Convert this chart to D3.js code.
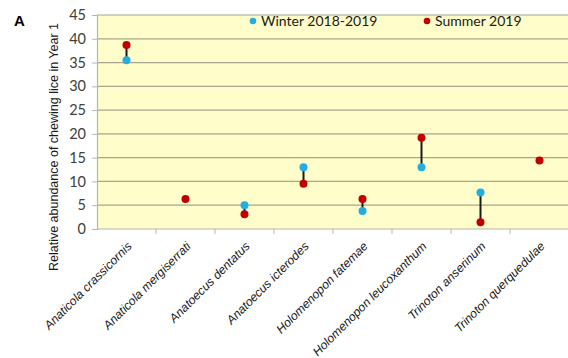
<!DOCTYPE html>
<html>
<head>
<meta charset="utf-8">
<script src="https://cdn.jsdelivr.net/npm/d3@7"></script>
<style>
  html, body { margin: 0; padding: 0; background: #ffffff; }
  svg { display: block; }
</style>
</head>
<body>
<svg id="chart" width="568" height="358"></svg>
<script>
// Relative abundance of chewing lice species, winter vs summer
const species = [
  "Anaticola crassicornis",
  "Anaticola mergiserrati",
  "Anatoecus dentatus",
  "Anatoecus icterodes",
  "Holomenopon fatemae",
  "Holomenopon leucoxanthum",
  "Trinoton anserinum",
  "Trinoton querquedulae"
];
const winter = [35.5, null, 5.0, 13.0, 3.8, 13.0, 7.7, null];
const summer = [38.7, 6.3, 3.1, 9.5, 6.3, 19.2, 1.4, 14.4];
const yTicks = [0, 5, 10, 15, 20, 25, 30, 35, 40, 45];
const seriesNames = ["Winter 2018-2019", "Summer 2019"];
const seriesColors = ["#22ade3", "#c00000"];

const svg = d3.select("#chart");
const margin = { left: 97, top: 15, right: -1, bottom: 129 };
const W = 568, H = 358;

const x = d3.scaleBand()
  .domain(species)
  .range([margin.left, W - margin.right])
  .padding(0);
const y = d3.scaleLinear()
  .domain([0, 45])
  .range([H - margin.bottom, margin.top]);

// plot background
svg.append("rect")
  .attr("x", x.range()[0]).attr("y", y(45))
  .attr("width", x.range()[1] - x.range()[0])
  .attr("height", y(0) - y(45))
  .attr("fill", "#fffdc9");

// horizontal gridlines
svg.append("g").selectAll("line")
  .data(yTicks.filter(d => d > 0))
  .join("line")
  .attr("x1", x.range()[0]).attr("x2", x.range()[1])
  .attr("y1", d => y(d)).attr("y2", d => y(d))
  .attr("stroke", "#a8a68f").attr("stroke-width", 1.2);

// y axis
const yAxis = svg.append("g")
  .attr("transform", `translate(${margin.left},0)`)
  .call(d3.axisLeft(y).tickValues(yTicks).tickSize(5).tickPadding(6));
yAxis.select(".domain").attr("stroke", "#b5b5b5").attr("stroke-width", 1.2);
yAxis.selectAll(".tick line").attr("stroke", "#b5b5b5");
yAxis.selectAll("text")
  .attr("font-family", "Lato, 'Open Sans', sans-serif")
  .attr("font-size", "14.5px")
  .attr("fill", "#404040");

// x axis with ticks between categories
const xAxisG = svg.append("g")
  .attr("transform", `translate(0,${y(0)})`);
xAxisG.append("line")
  .attr("x1", x.range()[0]).attr("x2", x.range()[1])
  .attr("stroke", "#b5b5b5").attr("stroke-width", 1.2);
xAxisG.selectAll("line.tk")
  .data(species.slice(1))
  .join("line")
  .attr("class", "tk")
  .attr("x1", d => x(d)).attr("x2", d => x(d))
  .attr("y1", 0).attr("y2", 5)
  .attr("stroke", "#b5b5b5");

// category labels, rotated
svg.append("g").selectAll("text")
  .data(species)
  .join("text")
  .attr("transform", d => `translate(${x(d) + x.bandwidth() / 2 + 6},${y(0) + 18}) rotate(-45)`)
  .attr("text-anchor", "end")
  .attr("font-family", "'Liberation Sans', Arial, sans-serif")
  .attr("font-style", "italic")
  .attr("font-size", "12.2px")
  .attr("fill", "#1a1a1a")
  .text(d => d);

// connectors between seasons
const pairs = species.map((s, i) => ({ s, w: winter[i], su: summer[i] }))
  .filter(d => d.w != null && d.su != null);
svg.append("g").selectAll("line")
  .data(pairs)
  .join("line")
  .attr("x1", d => x(d.s) + x.bandwidth() / 2)
  .attr("x2", d => x(d.s) + x.bandwidth() / 2)
  .attr("y1", d => y(d.w)).attr("y2", d => y(d.su))
  .attr("stroke", "#1a1a1a").attr("stroke-width", 2);

// points
[winter, summer].forEach((vals, k) => {
  svg.append("g").selectAll("circle")
    .data(species.map((s, i) => ({ s, v: vals[i] })).filter(d => d.v != null))
    .join("circle")
    .attr("cx", d => x(d.s) + x.bandwidth() / 2)
    .attr("cy", d => y(d.v))
    .attr("r", 4)
    .attr("fill", seriesColors[k]);
});

// legend
const legendX = [253, 427];
seriesNames.forEach((name, k) => {
  const g = svg.append("g").attr("transform", `translate(${legendX[k]},21)`);
  g.append("circle").attr("r", 3.3).attr("fill", seriesColors[k]);
  g.append("text")
    .attr("x", 8).attr("y", 5)
    .attr("font-family", "Lato, 'Open Sans', sans-serif")
    .attr("font-size", "14px")
    .attr("fill", "#1a1a1a")
    .text(name);
});

// y axis title
svg.append("text")
  .attr("transform", `translate(58,${(22 + 272) / 2}) rotate(-90)`)
  .attr("text-anchor", "middle")
  .attr("font-family", "'Liberation Sans', Arial, sans-serif")
  .attr("font-size", "12.5px")
  .attr("fill", "#1a1a1a")
  .text("Relative  abundance  of  chewing  lice  in  Year  1");

// panel letter
svg.append("text")
  .attr("x", 14).attr("y", 26)
  .attr("font-family", "'Liberation Sans', Arial, sans-serif")
  .attr("font-weight", "bold")
  .attr("font-size", "15px")
  .attr("fill", "#000")
  .text("A");
</script>
</body>
</html>
